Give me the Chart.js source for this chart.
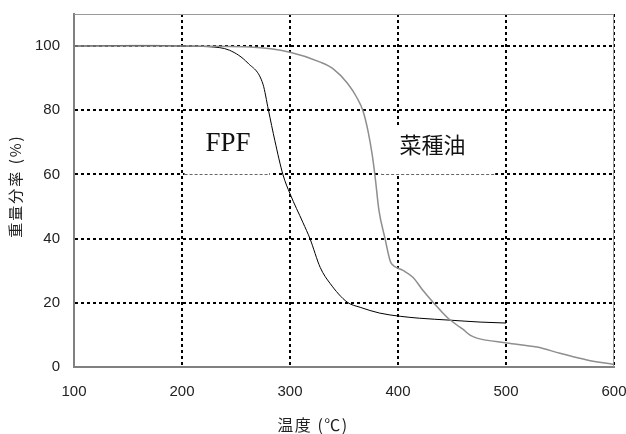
<!DOCTYPE html>
<html>
<head>
<meta charset="utf-8">
<script src="https://cdn.jsdelivr.net/npm/chart.js@4"></script>
<style>
  html, body { margin: 0; padding: 0; background: #fff; }
  #wrap { width: 626px; height: 434px; }
</style>
</head>
<body>
<div id="wrap"><canvas id="tgChart" width="626" height="434"></canvas></div>
<script>
// Courbes thermogravimétriques
const fpfTemp = [100, 152, 177, 201, 225, 244, 261, 275, 280, 286, 293.5, 300, 312, 318.5, 328, 337, 353, 365, 383, 402, 420, 448, 476, 500];
const fpfWeight = [100, 100.2, 100.2, 100, 99.8, 98.7, 94.7, 88.1, 80.1, 70.5, 59.9, 54, 45, 40, 31, 26.1, 20.2, 18.6, 16.8, 15.8, 15.2, 14.6, 14, 13.7];

const oilTemp = [100, 201, 263, 300, 328, 340, 353, 362, 367.6, 372.2, 376, 378.7, 382.4, 388, 392.6, 394.4, 404.6, 414, 423, 432.4, 445.4, 457.4, 460, 466.7, 473, 501, 528.7, 550, 575, 600];
const oilWeight = [100, 100, 99.7, 98.1, 95, 92.9, 88.5, 83.9, 79.8, 73.6, 66.4, 59.6, 48.7, 40, 33.2, 32, 30.1, 27.9, 23.9, 20.2, 15.5, 12.4, 11.8, 9.9, 9, 7.5, 6.2, 4.3, 2.2, 0.8];

const xTicks = [100, 200, 300, 400, 500, 600];
const yTicks = [0, 20, 40, 60, 80, 100];

const seriesNames = ['FPF', '菜種油'];
const xTitle = '温度 (℃)';
const yTitle = '重量分率 (%)';

function toPoints(xs, ys) {
    return xs.map((x, i) => ({ x: x, y: ys[i] }));
}

// Étiquettes posées dans le graphique (coordonnées en unités de données)
const labelBoxes = [
    { text: seriesNames[0], x: 242.5, y: 69.5, x0: 201, x1: 281, y0: 60, y1: 79.5, font: '27px "Liberation Serif", "Times New Roman", serif' },
    { text: seriesNames[1], x: 432, y: 69.3, x0: 383, x1: 490, y0: 60, y1: 75, font: '22px "Noto Sans CJK JP", sans-serif' }
];

const labelPlugin = {
    id: 'labelPlugin',
    beforeDatasetsDraw(chart) {
        const ctx = chart.ctx;
        const xs = chart.scales.x;
        const ys = chart.scales.y;
        const area = chart.chartArea;
        ctx.save();
        // cadre haut et droit
        ctx.strokeStyle = '#9a9a9a';
        ctx.lineWidth = 1;
        ctx.beginPath();
        ctx.moveTo(area.left, area.top + 0.5);
        ctx.lineTo(area.right, area.top + 0.5);
        ctx.moveTo(area.right - 0.5, area.top);
        ctx.lineTo(area.right - 0.5, area.bottom);
        ctx.stroke();

        labelBoxes.forEach(b => {
            const l = xs.getPixelForValue(b.x0);
            const r = xs.getPixelForValue(b.x1);
            const t = ys.getPixelForValue(b.y1);
            const bt = ys.getPixelForValue(b.y0);
            ctx.fillStyle = '#fff';
            ctx.fillRect(l + 1.5, t, r - l - 1.5, bt - t + 1.5);
            ctx.strokeStyle = '#666';
            ctx.lineWidth = 1;
            ctx.setLineDash([3, 2]);
            ctx.beginPath();
            ctx.moveTo(l + 1.5, Math.round(bt) + 0.5);
            ctx.lineTo(r, Math.round(bt) + 0.5);
            ctx.stroke();
            ctx.setLineDash([]);
            ctx.fillStyle = '#111';
            ctx.font = b.font;
            ctx.textAlign = 'center';
            ctx.textBaseline = 'middle';
            ctx.fillText(b.text, xs.getPixelForValue(b.x), ys.getPixelForValue(b.y));
        });
        ctx.restore();
    },
    // titres des axes (espacement des lettres comme sur l'original)
    afterDraw(chart) {
        const ctx = chart.ctx;
        ctx.save();
        ctx.fillStyle = '#222';
        ctx.textAlign = 'center';
        ctx.textBaseline = 'middle';
        ctx.font = '16px "Noto Sans CJK JP", sans-serif';
        ctx.letterSpacing = '1.5px';
        ctx.fillText(xTitle, 313, 425);
        ctx.font = '15px "Noto Sans CJK JP", sans-serif';
        ctx.letterSpacing = '2px';
        ctx.translate(15, 186);
        ctx.rotate(-Math.PI / 2);
        ctx.fillText(yTitle, 0, 0);
        ctx.restore();
    }
};

const gridDash = [3, 3];

new Chart(document.getElementById('tgChart').getContext('2d'), {
    type: 'line',
    data: {
        datasets: [
            {
                label: seriesNames[1],
                data: toPoints(oilTemp, oilWeight),
                borderColor: '#8e8e8e',
                borderWidth: 1.5,
                pointRadius: 0,
                fill: false,
                cubicInterpolationMode: 'monotone'
            },
            {
                label: seriesNames[0],
                data: toPoints(fpfTemp, fpfWeight),
                borderColor: '#000',
                borderWidth: 1,
                pointRadius: 0,
                fill: false,
                cubicInterpolationMode: 'monotone'
            }
        ]
    },
    options: {
        responsive: false,
        animation: false,
        layout: { padding: { top: 14, right: 12, left: 0, bottom: 0 } },
        plugins: {
            legend: { display: false },
            tooltip: { enabled: false }
        },
        scales: {
            x: {
                type: 'linear',
                min: 100,
                max: 600,
                afterBuildTicks: s => { s.ticks = xTicks.map(v => ({ value: v })); },
                afterFit: s => { s.height = 67; s.paddingLeft = 0; s.paddingRight = 0; },
                ticks: {
                    padding: 16,
                    color: '#222',
                    font: { family: '"Liberation Sans", Arial, sans-serif', size: 15 },
                    maxRotation: 0
                },
                grid: {
                    drawTicks: false,
                    lineWidth: 2,
                    color: c => (c.tick && c.tick.value === 100 ? 'rgba(0,0,0,0)' : '#000')
                },
                border: { display: true, color: '#808080', width: 2, dash: gridDash },
                title: { display: false }
            },
            y: {
                type: 'linear',
                min: 0,
                max: 110,
                afterBuildTicks: s => { s.ticks = yTicks.map(v => ({ value: v })); },
                afterFit: s => { s.width = 74; s.paddingTop = 0; s.paddingBottom = 0; },
                ticks: {
                    padding: 14,
                    color: '#222',
                    font: { family: '"Liberation Sans", Arial, sans-serif', size: 15 }
                },
                grid: {
                    drawTicks: false,
                    lineWidth: 2,
                    color: c => (c.tick && c.tick.value === 0 ? 'rgba(0,0,0,0)' : '#000')
                },
                border: { display: true, color: '#808080', width: 2, dash: gridDash },
                title: { display: false }
            }
        }
    },
    plugins: [labelPlugin]
});
</script>
</body>
</html>
